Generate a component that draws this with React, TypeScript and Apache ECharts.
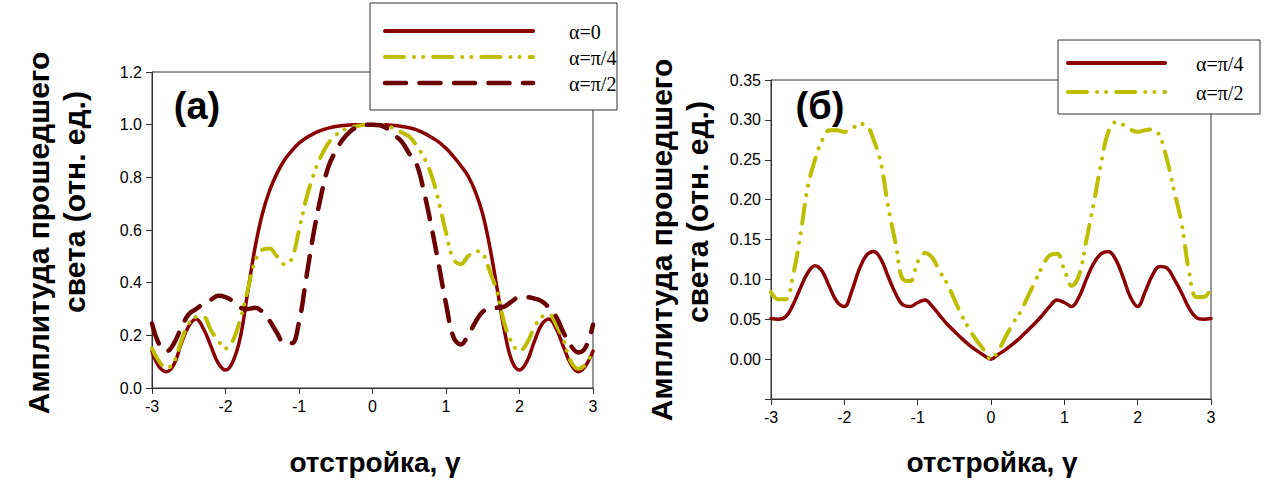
import React, { useEffect, useRef } from "react";
import * as echarts from "echarts";

// detuning gamma, -3 .. 3 step 0.1
const gamma = [
  -3.0, -2.9, -2.8, -2.7, -2.6, -2.5, -2.4, -2.3, -2.2, -2.1,
  -2.0, -1.9, -1.8, -1.7, -1.6, -1.5, -1.4, -1.3, -1.2, -1.1,
  -1.0, -0.9, -0.8, -0.7, -0.6, -0.5, -0.4, -0.3, -0.2, -0.1,
  0.0,
  0.1, 0.2, 0.3, 0.4, 0.5, 0.6, 0.7, 0.8, 0.9, 1.0,
  1.1, 1.2, 1.3, 1.4, 1.5, 1.6, 1.7, 1.8, 1.9, 2.0,
  2.1, 2.2, 2.3, 2.4, 2.5, 2.6, 2.7, 2.8, 2.9, 3.0,
];

// panel (a)
const a_alpha0 = [
  0.14, 0.08, 0.062, 0.09, 0.17, 0.235, 0.262, 0.225, 0.16, 0.095,
  0.068, 0.10, 0.19, 0.36, 0.53, 0.66, 0.75, 0.815, 0.865, 0.9,
  0.93, 0.95, 0.966, 0.978, 0.987, 0.993, 0.997, 0.999, 1.0, 1.0,
  1.0,
  1.0, 0.999, 0.997, 0.993, 0.988, 0.98, 0.968, 0.952, 0.935, 0.91,
  0.88, 0.845, 0.805, 0.745, 0.66, 0.53, 0.37, 0.21, 0.10, 0.068,
  0.10, 0.175, 0.24, 0.262, 0.225, 0.155, 0.09, 0.062, 0.085, 0.14,
];
const a_alphaPi4 = [
  0.15, 0.10, 0.075, 0.10, 0.18, 0.245, 0.27, 0.27, 0.22, 0.18,
  0.15, 0.18, 0.26, 0.37, 0.48, 0.525, 0.53, 0.50, 0.47, 0.49,
  0.60, 0.72, 0.81, 0.88, 0.93, 0.96, 0.98, 0.99, 0.995, 1.0,
  1.0,
  1.0, 0.995, 0.985, 0.97, 0.955, 0.92, 0.875, 0.81, 0.71, 0.59,
  0.49, 0.47, 0.50, 0.52, 0.51, 0.44, 0.36, 0.24, 0.17, 0.14,
  0.17, 0.23, 0.27, 0.28, 0.24, 0.18, 0.10, 0.073, 0.09, 0.14,
];
const a_alphaPi2 = [
  0.245, 0.165, 0.14, 0.17, 0.23, 0.28, 0.30, 0.32, 0.335, 0.35,
  0.345, 0.33, 0.305, 0.30, 0.305, 0.29, 0.255, 0.21, 0.17, 0.17,
  0.25, 0.42, 0.59, 0.73, 0.84, 0.90, 0.945, 0.975, 0.993, 1.0,
  1.0,
  0.998, 0.985, 0.96, 0.935, 0.89, 0.85, 0.745, 0.615, 0.47, 0.32,
  0.195, 0.165, 0.20, 0.25, 0.29, 0.30, 0.305, 0.31, 0.33, 0.345,
  0.345, 0.34, 0.33, 0.305, 0.27, 0.21, 0.16, 0.135, 0.155, 0.24,
];

// panel (б)
const b_alphaPi4 = [
  0.051, 0.050, 0.053, 0.068, 0.089, 0.108, 0.117, 0.110, 0.090, 0.072,
  0.066, 0.085, 0.112, 0.130, 0.135, 0.125, 0.103, 0.082, 0.068, 0.066,
  0.071, 0.074, 0.066, 0.055, 0.044, 0.035, 0.026, 0.018, 0.011, 0.005,
  0.0,
  0.006, 0.012, 0.019, 0.027, 0.036, 0.045, 0.055, 0.066, 0.074, 0.071,
  0.066, 0.078, 0.100, 0.120, 0.132, 0.135, 0.125, 0.103, 0.078, 0.066,
  0.084, 0.105, 0.116, 0.114, 0.100, 0.083, 0.064, 0.052, 0.050, 0.051,
];
const b_alphaPi2 = [
  0.084, 0.075, 0.075, 0.105, 0.155, 0.215, 0.25, 0.275, 0.287, 0.287,
  0.285, 0.288, 0.295, 0.293, 0.275, 0.245, 0.19, 0.145, 0.10, 0.098,
  0.122, 0.133, 0.127, 0.11, 0.095, 0.075, 0.055, 0.038, 0.024, 0.012,
  0.0,
  0.011, 0.028, 0.045, 0.059, 0.078, 0.097, 0.116, 0.13, 0.132, 0.112,
  0.092, 0.105, 0.149, 0.195, 0.245, 0.285, 0.297, 0.294, 0.288, 0.285,
  0.287, 0.288, 0.28, 0.25, 0.21, 0.17, 0.11, 0.078, 0.078, 0.088,
];

const legendA = ["α=0", "α=π/4", "α=π/2"];
const legendB = ["α=π/4", "α=π/2"];
const yTitle1 = "Амплитуда прошедшего";
const yTitle2 = "света (отн. ед.)";
const xTitle = "отстройка, γ";

const RED = "#8b0000";
const DARK = "#6a0000";
const YEL = "#bebe00";
const DASH_DOT_DOT = [19, 10, 0.1, 9, 0.1, 10];
const LONG_DASH = [21, 13.5];

const zip = (ys: number[]) => gamma.map((g, i) => [g, ys[i]]);

export default function App() {
  const ref = useRef<HTMLDivElement>(null);
  useEffect(() => {
    if (!ref.current) return;
    const chart = echarts.init(ref.current, undefined, { renderer: "svg" });
    const sans = "'Liberation Sans', Arial, sans-serif";
    const serif = "'Liberation Serif', 'Times New Roman', serif";
    const axisCommon = {
      axisLine: { show: true, onZero: false, lineStyle: { color: "#333", width: 1 } },
      axisTick: { show: true, length: 6, lineStyle: { color: "#333" } },
      splitLine: { show: false },
    };
    const xAx = (gi: number) => ({
      ...axisCommon,
      gridIndex: gi,
      type: "value",
      min: -3,
      max: 3,
      interval: 1,
      axisLabel: { color: "#000", fontSize: 16, fontFamily: sans, margin: 10 },
    });
    const line = (
      gi: number,
      name: string,
      ys: number[],
      color: string,
      width: number,
      type: any
    ) => ({
      type: "line",
      name,
      xAxisIndex: gi,
      yAxisIndex: gi,
      data: zip(ys),
      smooth: 0.4,
      showSymbol: false,
      symbol: "none",
      lineStyle: { color, width, type, cap: "round", join: "round" },
    });

    const legendGraphics = (
      x: number,
      y: number,
      w: number,
      h: number,
      lx1: number,
      lx2: number,
      tx: number,
      rows: { y: number; text: string; color: string; width: number; dash: any }[]
    ) => [
      {
        type: "rect",
        z: 100,
        shape: { x, y, width: w, height: h },
        style: { fill: "#fff", stroke: "#333", lineWidth: 1 },
      },
      ...rows.flatMap((r) => [
        {
          type: "line",
          z: 101,
          shape: { x1: lx1, y1: r.y, x2: lx2, y2: r.y },
          style: {
            stroke: r.color,
            lineWidth: r.width,
            lineDash: r.dash,
            lineCap: "round",
          },
        },
        {
          type: "text",
          z: 101,
          x: tx,
          y: r.y + 1,
          style: {
            text: r.text,
            font: `20px ${serif}`,
            fill: "#000",
            textAlign: "left",
            textVerticalAlign: "middle",
          },
        },
      ]),
    ];

    const rotText = (x: number, y: number, text: string) => ({
      type: "text",
      z: 50,
      x,
      y,
      rotation: Math.PI / 2,
      style: {
        text,
        font: `bold 30px ${sans}`,
        fill: "#000",
        textAlign: "center",
        textVerticalAlign: "middle",
      },
    });
    const plainText = (x: number, y: number, text: string, size: number) => ({
      type: "text",
      z: 50,
      x,
      y,
      style: {
        text,
        font: `bold ${size}px ${sans}`,
        fill: "#000",
        textAlign: "center",
        textVerticalAlign: "middle",
      },
    });

    chart.setOption({
      animation: false,
      backgroundColor: "#fff",
      grid: [
        { left: 152, top: 72, width: 441, height: 316, show: true, borderColor: "#333", borderWidth: 1 },
        { left: 771, top: 80, width: 440, height: 319, show: true, borderColor: "#333", borderWidth: 1 },
      ],
      xAxis: [xAx(0), xAx(1)],
      yAxis: [
        {
          ...axisCommon,
          gridIndex: 0,
          type: "value",
          min: 0,
          max: 1.2,
          interval: 0.2,
          axisLabel: {
            color: "#000",
            fontSize: 16,
            fontFamily: sans,
            margin: 10,
            formatter: (v: number) => v.toFixed(1),
          },
        },
        {
          ...axisCommon,
          gridIndex: 1,
          type: "value",
          min: -0.05,
          max: 0.35,
          interval: 0.05,
          axisLabel: {
            color: "#000",
            fontSize: 16,
            fontFamily: sans,
            margin: 10,
            formatter: (v: number) => (v < -0.001 ? "" : v.toFixed(2)),
          },
        },
      ],
      series: [
        line(0, legendA[0], a_alpha0, RED, 3.5, "solid"),
        line(0, legendA[1], a_alphaPi4, YEL, 4, DASH_DOT_DOT),
        line(0, legendA[2], a_alphaPi2, DARK, 4.5, LONG_DASH),
        line(1, legendB[0], b_alphaPi4, RED, 3.5, "solid"),
        line(1, legendB[1], b_alphaPi2, YEL, 4, DASH_DOT_DOT),
      ],
      graphic: [
        ...legendGraphics(370, 3, 247, 107, 385, 533, 569, [
          { y: 31, text: legendA[0], color: RED, width: 4, dash: null },
          { y: 57, text: legendA[1], color: YEL, width: 4, dash: DASH_DOT_DOT },
          { y: 83, text: legendA[2], color: DARK, width: 4.5, dash: LONG_DASH },
        ]),
        ...legendGraphics(1058, 40, 202, 74, 1068, 1165, 1196, [
          { y: 63, text: legendB[0], color: RED, width: 4, dash: null },
          { y: 92, text: legendB[1], color: YEL, width: 4, dash: DASH_DOT_DOT },
        ]),
        rotText(38, 233, yTitle1),
        rotText(74, 202, yTitle2),
        rotText(661, 240, yTitle1),
        rotText(697, 212, yTitle2),
        plainText(375, 462, xTitle, 28),
        plainText(992, 462, xTitle, 28),
        plainText(197, 106, "(а)", 38),
        plainText(820, 106, "(б)", 38),
      ],
    });
    return () => chart.dispose();
  }, []);
  return (
    <div
      ref={ref}
      style={{ position: "fixed", left: 0, top: 0, width: 1264, height: 484 }}
    />
  );
}
